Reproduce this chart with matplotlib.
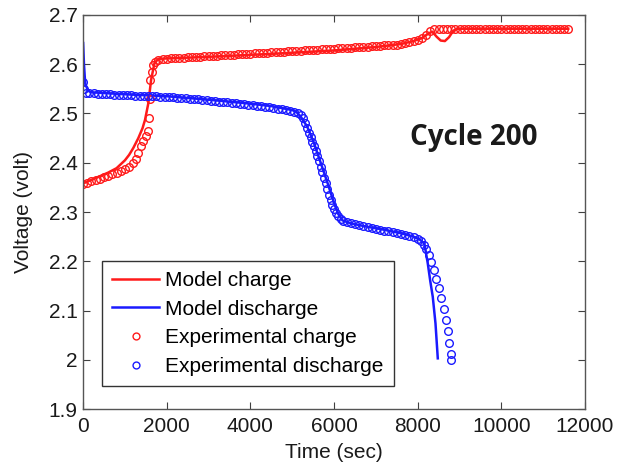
import matplotlib.pyplot as plt
from matplotlib.ticker import FuncFormatter

# model curves (time in s, voltage in V)
t_model_charge = [0, 300, 600, 800, 1000, 1100, 1200, 1320, 1420, 1480, 1560, 1625,
                  1705, 1800, 3000, 4500, 6000, 7000, 7600, 7900, 8100, 8250, 8350,
                  8450, 8550, 8650, 8750, 8850, 8950, 11600]
v_model_charge = [2.358, 2.369, 2.380, 2.389, 2.405, 2.416, 2.430, 2.450, 2.470, 2.487,
                  2.521, 2.568, 2.602, 2.611, 2.615, 2.621, 2.628, 2.635, 2.641, 2.647,
                  2.653, 2.662, 2.666, 2.656, 2.648, 2.647, 2.655, 2.668, 2.672, 2.672]

t_model_dis = [0, 20, 50, 120, 200, 1000, 2000, 3000, 4000, 4500, 5000, 5100, 5200,
               5360, 5520, 5680, 5840, 6000, 6100, 6200, 6400, 6800, 7200, 7600, 7900,
               8050, 8160, 8240, 8300, 8360, 8425, 8480]
v_model_dis = [2.643, 2.600, 2.560, 2.546, 2.543, 2.539, 2.535, 2.528, 2.520, 2.515,
               2.507, 2.503, 2.494, 2.473, 2.440, 2.400, 2.360, 2.318, 2.296, 2.283,
               2.277, 2.270, 2.264, 2.257, 2.250, 2.244, 2.236, 2.196, 2.160, 2.128,
               2.074, 2.003]

# measured charge
t_exp_charge = [0, 100, 200, 300, 400, 500, 600, 700, 800, 900, 1000, 1100, 1200,
                1260, 1320, 1380, 1440, 1500, 1540, 1570, 1590, 1610, 1640, 1680, 1720,
                1780, 1900, 2000, 2100, 2200, 2300, 2400, 2500, 2600, 2700, 2800, 2900,
                3000, 3100, 3200, 3300, 3400, 3500, 3600, 3700, 3800, 3900, 4000, 4100,
                4200, 4300, 4400, 4500, 4600, 4700, 4800, 4900, 5000, 5100, 5200, 5300,
                5400, 5500, 5600, 5700, 5800, 5900, 6000, 6100, 6200, 6300, 6400, 6500,
                6600, 6700, 6800, 6900, 7000, 7100, 7200, 7300, 7400, 7500, 7600, 7700,
                7800, 7900, 8000, 8100, 8200, 8300, 8400, 8500, 8600, 8700, 8800, 8900,
                9000, 9100, 9200, 9300, 9400, 9500, 9600, 9700, 9800, 9900, 10000,
                10100, 10200, 10300, 10400, 10500, 10600, 10700, 10800, 10900, 11000,
                11100, 11200, 11300, 11400, 11500, 11600]
v_exp_charge = [2.356, 2.359, 2.362, 2.365, 2.368, 2.371, 2.374, 2.377, 2.380, 2.383,
                2.387, 2.392, 2.399, 2.408, 2.420, 2.434, 2.445, 2.455, 2.465, 2.490,
                2.530, 2.568, 2.585, 2.598, 2.605, 2.609, 2.611, 2.611, 2.612, 2.612,
                2.613, 2.613, 2.614, 2.614, 2.615, 2.615, 2.616, 2.616, 2.617, 2.617,
                2.618, 2.618, 2.619, 2.619, 2.620, 2.620, 2.621, 2.621, 2.622, 2.622,
                2.623, 2.623, 2.624, 2.624, 2.625, 2.625, 2.626, 2.626, 2.627, 2.627,
                2.628, 2.628, 2.629, 2.629, 2.630, 2.630, 2.631, 2.631, 2.632, 2.632,
                2.633, 2.633, 2.634, 2.634, 2.635, 2.635, 2.636, 2.636, 2.637, 2.638,
                2.638, 2.639, 2.640, 2.641, 2.643, 2.645, 2.647, 2.650, 2.654, 2.660,
                2.667, 2.671, 2.672, 2.672, 2.672, 2.672, 2.672, 2.672, 2.672, 2.672,
                2.672, 2.672, 2.672, 2.672, 2.672, 2.672, 2.672, 2.672, 2.672, 2.672,
                2.672, 2.672, 2.672, 2.672, 2.672, 2.672, 2.672, 2.672, 2.672, 2.672,
                2.672, 2.672, 2.672, 2.672]

# measured discharge
t_exp_dis = [0, 30, 80, 150, 250, 350, 450, 550, 650, 750, 850, 950, 1050, 1150, 1250,
             1350, 1450, 1550, 1650, 1750, 1850, 1950, 2050, 2150, 2250, 2350, 2450,
             2550, 2650, 2750, 2850, 2950, 3050, 3150, 3250, 3350, 3450, 3550, 3650,
             3750, 3850, 3950, 4050, 4150, 4250, 4350, 4450, 4550, 4650, 4750, 4850,
             4950, 5050, 5130, 5200, 5260, 5310, 5360, 5400, 5440, 5480, 5520, 5560,
             5600, 5640, 5680, 5720, 5760, 5800, 5840, 5880, 5920, 5960, 6000, 6050,
             6100, 6160, 6220, 6300, 6400, 6500, 6600, 6700, 6800, 6900, 7000, 7100,
             7200, 7300, 7400, 7500, 7600, 7700, 7800, 7900, 8000, 8080, 8140, 8200,
             8260, 8320, 8380, 8440, 8500, 8560, 8620, 8680, 8720, 8760, 8790, 8800]
v_exp_dis = [2.563, 2.550, 2.542, 2.541, 2.541, 2.540, 2.540, 2.539, 2.539, 2.538,
             2.538, 2.538, 2.537, 2.537, 2.536, 2.536, 2.536, 2.535, 2.535, 2.535,
             2.534, 2.534, 2.533, 2.533, 2.532, 2.531, 2.531, 2.530, 2.529, 2.529,
             2.528, 2.527, 2.526, 2.525, 2.524, 2.524, 2.523, 2.522, 2.521, 2.520,
             2.519, 2.518, 2.517, 2.516, 2.515, 2.514, 2.513, 2.512, 2.510, 2.509,
             2.507, 2.506, 2.504, 2.501, 2.496, 2.490, 2.481, 2.470, 2.461, 2.452,
             2.443, 2.433, 2.423, 2.413, 2.403, 2.392, 2.381, 2.370, 2.358, 2.347,
             2.335, 2.324, 2.314, 2.306, 2.298, 2.292, 2.286, 2.282, 2.279, 2.277,
             2.275, 2.273, 2.271, 2.269, 2.267, 2.265, 2.264, 2.262, 2.261, 2.259,
             2.257, 2.256, 2.254, 2.252, 2.250, 2.246, 2.241, 2.234, 2.224, 2.212,
             2.198, 2.182, 2.165, 2.146, 2.126, 2.103, 2.080, 2.058, 2.035, 2.012,
             2.000]

red = '#ff1a1a'
blue = '#1a1aff'
fs = 15

plt.rcParams['font.family'] = ['Liberation Sans', 'DejaVu Sans']
fig = plt.figure(figsize=(6.25, 4.67), dpi=100)
ax = fig.add_axes([0.133, 0.124, 0.803, 0.844])

ax.plot(t_model_charge, v_model_charge, '-', color=red, lw=1.8, label='Model charge')
ax.plot(t_model_dis, v_model_dis, '-', color=blue, lw=1.8, label='Model discharge')
ax.plot(t_exp_charge, v_exp_charge, 'o', mfc='none', mec=red, ms=5.5, mew=1.0,
        label='Experimental charge')
ax.plot(t_exp_dis, v_exp_dis, 'o', mfc='none', mec=blue, ms=5.5, mew=1.0,
        label='Experimental discharge')

ax.set_xlim(0, 12000)
ax.set_ylim(1.9, 2.7)
ax.set_xticks(range(0, 12001, 2000))
ax.set_yticks([1.9, 2.0, 2.1, 2.2, 2.3, 2.4, 2.5, 2.6, 2.7])
ax.yaxis.set_major_formatter(FuncFormatter(lambda v, p: '%g' % round(v, 2)))
ax.tick_params(direction='in', top=True, right=True, length=5, width=0.8,
               labelsize=fs, colors='#404040', labelcolor='#1a1a1a', pad=4)
ax.tick_params(axis='x', pad=6)
for s in ax.spines.values():
    s.set_color('#555555')
    s.set_linewidth(1.0)

ax.set_xlabel('Time (sec)', fontsize=fs, color='#1a1a1a', labelpad=5)
ax.set_ylabel('Voltage (volt)', fontsize=fs, color='#1a1a1a', labelpad=11)

ax.text(9330, 2.452, 'Cycle 200', fontsize=20, fontweight='bold',
        family=['Open Sans', 'DejaVu Sans'], ha='center', va='center', color='#1a1a1a')

leg = ax.legend(loc='lower left', bbox_to_anchor=(0.037, 0.058), fontsize=fs,
                numpoints=1, handlelength=2.25, handletextpad=0.3, borderpad=0.5,
                labelspacing=0.46, fancybox=False, framealpha=1, borderaxespad=0,
                markerscale=0.9)
leg.get_frame().set_edgecolor('#333333')
leg.get_frame().set_linewidth(1.0)

fig.savefig('out.png', dpi=100)
